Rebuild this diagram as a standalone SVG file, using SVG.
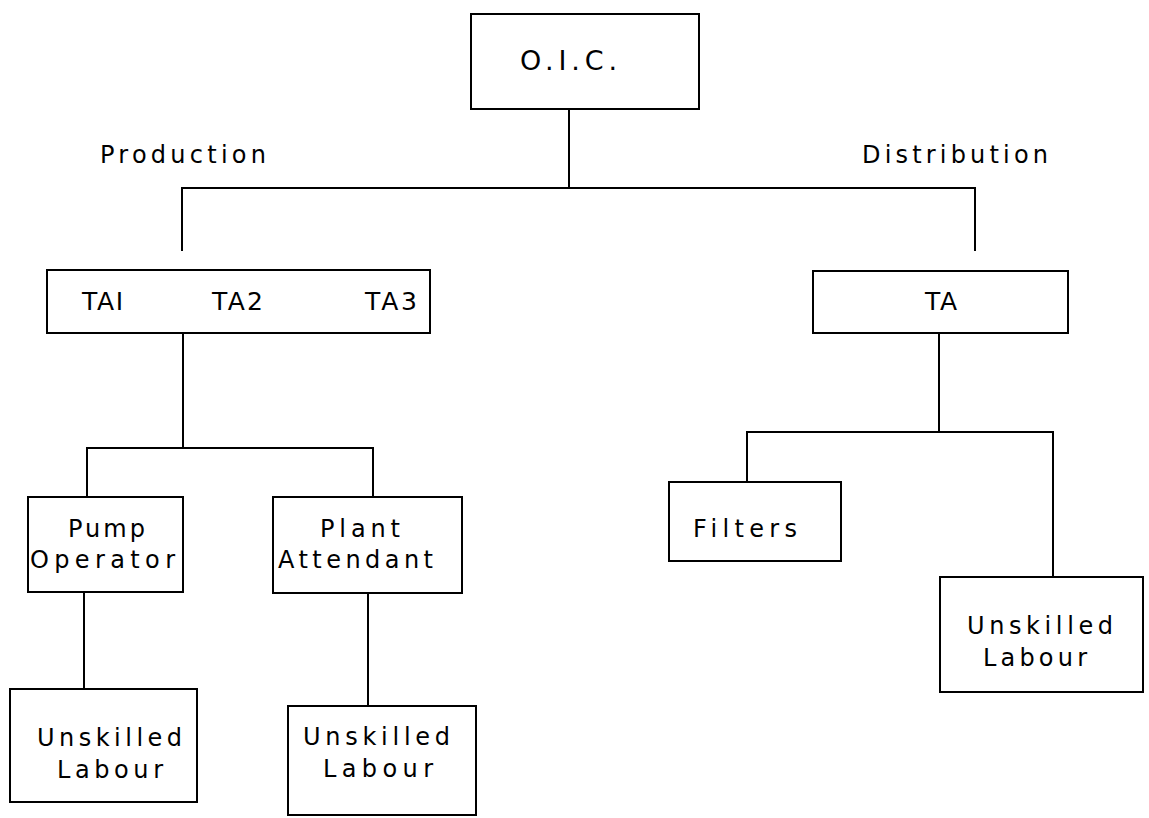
<svg xmlns="http://www.w3.org/2000/svg" width="1149" height="818" viewBox="0 0 1149 818">
<style>
.box{fill:none;stroke:#000;stroke-width:2}
.ln{fill:none;stroke:#000;stroke-width:2;stroke-linecap:square}
text{font-family:"DejaVu Sans","Liberation Sans",sans-serif;font-size:24px;fill:#000}
.big{font-size:27px}
.mid{font-size:25px}
</style>
<rect width="1149" height="818" fill="#fff"/>
<g id="connectors">
<path class="ln" d="M569,109 V188"/>
<path class="ln" d="M182,250 V188 H975 V250"/>
<path class="ln" d="M183,333 V448"/>
<path class="ln" d="M87,497 V448 H373 V497"/>
<path class="ln" d="M939,333 V432"/>
<path class="ln" d="M747,482 V432 H1053 V577"/>
<path class="ln" d="M84,592 V689"/>
<path class="ln" d="M368,593 V706"/>
</g>
<g id="label-production"><text x="100" y="163" textLength="166" lengthAdjust="spacing">Production</text></g>
<g id="label-distribution"><text x="862" y="163" textLength="186" lengthAdjust="spacing">Distribution</text></g>
<g id="oic">
<rect class="box" x="471" y="14" width="228" height="95"/>
<text class="big" x="520" y="70" textLength="97" lengthAdjust="spacing">O.I.C.</text>
</g>
<g id="ta-production">
<rect class="box" x="47" y="270" width="383" height="63"/>
<text class="mid" x="82" y="310" textLength="41" lengthAdjust="spacing">TAI</text>
<text class="mid" x="212" y="310" textLength="51" lengthAdjust="spacing">TA2</text>
<text class="mid" x="365" y="310" textLength="52" lengthAdjust="spacing">TA3</text>
</g>
<g id="ta-distribution">
<rect class="box" x="813" y="271" width="255" height="62"/>
<text class="mid" x="925" y="310" textLength="32" lengthAdjust="spacing">TA</text>
</g>
<g id="pump-operator">
<rect class="box" x="28" y="497" width="155" height="95"/>
<text x="68" y="537" textLength="77" lengthAdjust="spacing">Pump</text>
<text x="30" y="568" textLength="145" lengthAdjust="spacing">Operator</text>
</g>
<g id="plant-attendant">
<rect class="box" x="273" y="497" width="189" height="96"/>
<text x="320" y="537" textLength="80" lengthAdjust="spacing">Plant</text>
<text x="278" y="568" textLength="155" lengthAdjust="spacing">Attendant</text>
</g>
<g id="unskilled-1">
<rect class="box" x="10" y="689" width="187" height="113"/>
<text x="37" y="746" textLength="145" lengthAdjust="spacing">Unskilled</text>
<text x="57" y="778" textLength="106" lengthAdjust="spacing">Labour</text>
</g>
<g id="unskilled-2">
<rect class="box" x="288" y="706" width="188" height="109"/>
<text x="303" y="745" textLength="147" lengthAdjust="spacing">Unskilled</text>
<text x="323" y="777" textLength="110" lengthAdjust="spacing">Labour</text>
</g>
<g id="filters">
<rect class="box" x="669" y="482" width="172" height="79"/>
<text x="693" y="537" textLength="104" lengthAdjust="spacing">Filters</text>
</g>
<g id="unskilled-3">
<rect class="box" x="940" y="577" width="203" height="115"/>
<text x="967" y="634" textLength="146" lengthAdjust="spacing">Unskilled</text>
<text x="983" y="666" textLength="104" lengthAdjust="spacing">Labour</text>
</g>
</svg>
